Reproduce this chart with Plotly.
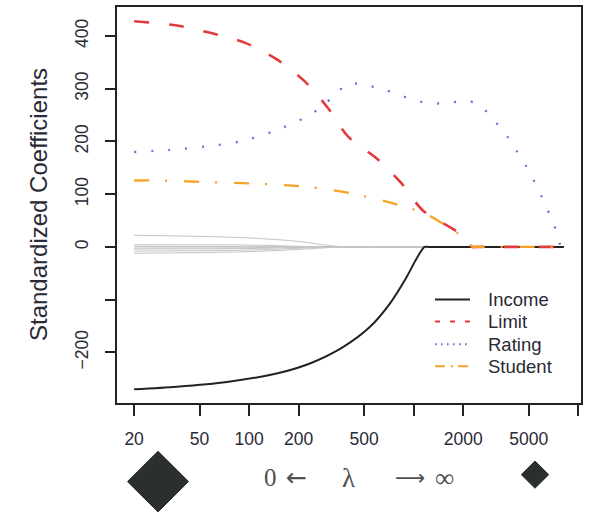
import plotly.graph_objects as go

# ---- data ----
income_lam = [20, 36.4, 73.3, 147, 234, 372, 541, 715, 903, 1038, 1165, 1250, 8180]
income_val = [-270, -265, -256, -240, -221, -190, -152, -108, -58, -23, 0, 0, 0]

limit_lam = [20, 36.4, 58, 94.7, 146.6, 218, 302, 400, 594, 842, 1138, 1814, 2084, 2250, 2400, 8180]
limit_val = [428, 420, 406, 387, 356, 314, 263, 209, 168, 121, 69, 30, 14.5, 0, 0, 0]

rating_lam = [20, 33, 54, 88, 140, 224, 276, 332, 400, 505, 652, 822, 1038, 1309, 1692,
              2164, 2655, 3170, 3676, 4225, 4816, 5406, 6022, 6673, 7325, 7900, 8180]
rating_val = [180, 184, 190.6, 200, 219, 247, 266, 288, 310, 307, 299, 288, 277, 272, 274,
              277, 262, 236, 211, 182, 154, 124.5, 94, 63, 31.5, 0, 0]

student_lam = [20, 28, 55, 111, 224, 429, 822, 1194, 1652, 2084, 2300, 2450, 8180]
student_val = [126, 126, 123, 120, 114, 101, 79, 62, 36, 14.5, 0, 0, 0]

other_paths = [
    ([20, 50, 100, 200, 280, 390, 430, 8180], [22, 20, 17, 10.5, 4, 0, 0, 0]),
    ([20, 100, 270, 300, 8180], [4, 3.5, 0, 0, 0]),
    ([20, 150, 270, 300, 8180], [1, 0.5, 0, 0, 0]),
    ([20, 100, 270, 300, 8180], [-4, -3, 0, 0, 0]),
    ([20, 100, 220, 330, 360, 8180], [-8, -6, -2, 0, 0, 0]),
    ([20, 100, 220, 360, 390, 8180], [-12, -9, -4, 0, 0, 0]),
    ([20, 100, 200, 240, 8180], [-2, -1.5, 0, 0, 0]),
]

series_names = ["Income", "Limit", "Rating", "Student"]
series_colors = ["#222222", "#e23b3b", "#6a6fd0", "#f5a325"]

x_tickvals = [20, 50, 100, 200, 500, 1000, 2000, 5000, 10000]
x_ticktext = ["20", "50", "100", "200", "500", "", "2000", "5000", ""]
y_tickvals = [400, 300, 200, 100, 0, -100, -200]
y_ticktext = ["400", "300", "200", "100", "0", "", "\u2212200"]

# ---- figure ----
fig = go.Figure()
for lam, val in other_paths:
    fig.add_trace(go.Scatter(x=lam, y=val, mode="lines", showlegend=False,
                             line=dict(color="#c4c4c4", width=1, shape="spline", smoothing=0.8),
                             hoverinfo="skip"))

plot_dash = [None, "15px,20px", "2px,15px", "15px,16px,2px,17px"]
plot_width = [2, 2.6, 2.3, 2.3]
for lam, val, name, col, dash, w in zip(
        [income_lam, limit_lam, rating_lam, student_lam],
        [income_val, limit_val, rating_val, student_val],
        series_names, series_colors, plot_dash, plot_width):
    line = dict(color=col, width=w, shape="spline", smoothing=0.8)
    if dash:
        line["dash"] = dash
    fig.add_trace(go.Scatter(x=lam, y=val, mode="lines", name=name, line=line, showlegend=False))

font_main = "Liberation Sans, Arial, sans-serif"
txt = "#2a2a35"

# plot area in pixels: left 117, right 581, top 5, bottom 403
L, R, T, B = 117, 581, 5, 403
def px2paper(px, py):
    return (px - L) / (R - L), (B - py) / (B - T)

fig.update_layout(
    width=590, height=512,
    margin=dict(l=L, r=590 - R, t=T, b=512 - B),
    paper_bgcolor="white", plot_bgcolor="white",
    font=dict(family=font_main, color=txt, size=17.5),
    showlegend=False,
    xaxis=dict(type="log", range=[1.197, 4.017], tickvals=x_tickvals, ticktext=x_ticktext,
               showgrid=False, zeroline=False, showline=True, linecolor="#222", linewidth=1.6,
               mirror=True, ticks="outside", ticklen=11, tickwidth=1.5, tickcolor="#222",
               tickfont=dict(size=17.5, color=txt), ticklabelstandoff=8),
    yaxis=dict(range=[-296, 455], tickvals=y_tickvals, ticktext=y_ticktext, tickangle=-90,
               showgrid=False, zeroline=False, showline=True, linecolor="#222", linewidth=1.6,
               mirror=True, ticks="outside", ticklen=10, tickwidth=1.5, tickcolor="#222",
               tickfont=dict(size=17.5, color=txt), ticklabelstandoff=10),
)

# legend (drawn in layout so spacing matches the reference)
legend_dash = [None, "5px,10px", "1.6px,4.4px", "10px,6px,2px,5px"]
legend_rows = [299, 321, 344, 366]
for name, col, dash, w, ry in zip(series_names, series_colors, legend_dash, plot_width, legend_rows):
    x0, y0 = px2paper(435, ry)
    x1, _ = px2paper(470, ry)
    ln = dict(color=col, width=min(w, 2))
    if dash:
        ln["dash"] = dash
    fig.add_shape(type="line", xref="paper", yref="paper", x0=x0, x1=x1, y0=y0, y1=y0, line=ln)
    tx, _ = px2paper(486, ry)
    fig.add_annotation(text=name, xref="paper", yref="paper", x=tx, y=y0, showarrow=False,
                       xanchor="left", yanchor="middle", font=dict(size=18.5, color=txt))

# y-axis title
fig.add_annotation(text="Standardized Coefficients", xref="paper", yref="paper",
                   x=px2paper(38, 0)[0], y=0.5, textangle=-90, showarrow=False,
                   xanchor="center", yanchor="middle",
                   font=dict(size=24, color=txt, family=font_main))

# lambda label
serif = "Liberation Serif, DejaVu Serif, serif"
arrowfont = "DejaVu Sans, sans-serif"
for s, px, fam, sz in [("0", 270, serif, 25), ("\u2190", 296, arrowfont, 25),
                       ("\u03bb", 348.5, serif, 27), ("\u27f6", 410, arrowfont, 21),
                       ("\u221e", 444, serif, 27)]:
    ax, ay = px2paper(px, 478)
    fig.add_annotation(text=s, xref="paper", yref="paper", x=ax, y=ay,
                       showarrow=False, xanchor="center", yanchor="middle",
                       font=dict(size=sz, color="#505050", family=fam))

# diamonds (decorative)
def diamond(cx, cy, h):
    xc, yc = px2paper(cx, cy)
    hx = h / (R - L)
    hy = h / (B - T)
    return f"M {xc} {yc + hy} L {xc + hx} {yc} L {xc} {yc - hy} L {xc - hx} {yc} Z"

for cx, cy, h in [(158, 482, 30.5), (535, 475, 13.7)]:
    fig.add_shape(type="path", path=diamond(cx, cy, h), xref="paper", yref="paper",
                  fillcolor="#2b2f2f", line=dict(color="#2b2f2f", width=1))

fig.write_html("out.html", config={"displayModeBar": False},
               post_script="document.body.style.margin='0px';")
